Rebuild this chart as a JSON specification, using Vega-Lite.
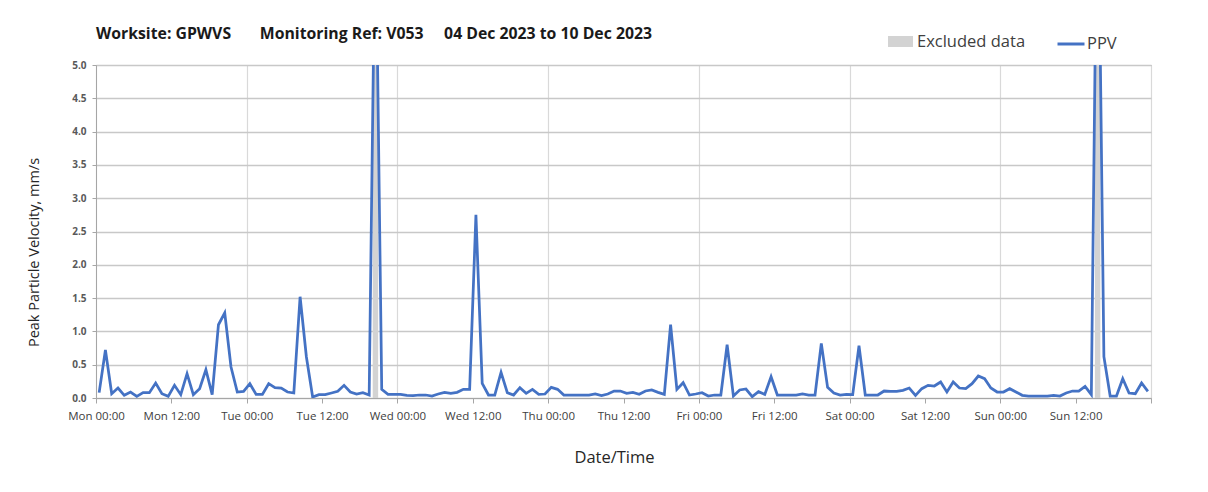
{
  "$schema": "https://vega.github.io/schema/vega-lite/v6.json",
  "width": 1055,
  "height": 333,
  "autosize": {"type": "none"},
  "padding": {"left": 96, "top": 65, "right": 57, "bottom": 94},
  "background": "white",
  "config": {
    "font": "Open Sans",
    "view": {"stroke": "#a6a6a6", "strokeWidth": 1}
  },
  "title": {
    "text": "Worksite: GPWVS\u00a0\u00a0\u00a0\u00a0\u00a0\u00a0\u00a0Monitoring Ref: V053\u00a0\u00a0\u00a0\u00a0\u00a004 Dec 2023 to 10 Dec 2023",
    "anchor": "start",
    "frame": "group",
    "font": "Open Sans",
    "fontSize": 15.8,
    "fontWeight": "bold",
    "color": "#1a1a1a",
    "offset": 18,
    "dy": 32
  },
  "datasets": {
    "excluded": [
      {"start": "2023-12-05T20:04", "end": "2023-12-05T20:56", "series": "Excluded data"},
      {"start": "2023-12-10T15:04", "end": "2023-12-10T15:56", "series": "Excluded data"}
    ],
    "ppv": [
      {"t": "2023-12-04T00:30", "v": 0.08},
      {"t": "2023-12-04T01:30", "v": 0.72},
      {"t": "2023-12-04T02:30", "v": 0.065},
      {"t": "2023-12-04T03:30", "v": 0.15},
      {"t": "2023-12-04T04:30", "v": 0.04},
      {"t": "2023-12-04T05:30", "v": 0.09},
      {"t": "2023-12-04T06:30", "v": 0.025},
      {"t": "2023-12-04T07:30", "v": 0.08},
      {"t": "2023-12-04T08:30", "v": 0.08},
      {"t": "2023-12-04T09:30", "v": 0.225},
      {"t": "2023-12-04T10:30", "v": 0.065},
      {"t": "2023-12-04T11:30", "v": 0.025},
      {"t": "2023-12-04T12:30", "v": 0.19},
      {"t": "2023-12-04T13:30", "v": 0.05},
      {"t": "2023-12-04T14:30", "v": 0.365},
      {"t": "2023-12-04T15:30", "v": 0.05},
      {"t": "2023-12-04T16:30", "v": 0.14},
      {"t": "2023-12-04T17:30", "v": 0.425},
      {"t": "2023-12-04T18:30", "v": 0.05},
      {"t": "2023-12-04T19:30", "v": 1.1},
      {"t": "2023-12-04T20:30", "v": 1.28},
      {"t": "2023-12-04T21:30", "v": 0.465},
      {"t": "2023-12-04T22:30", "v": 0.09},
      {"t": "2023-12-04T23:30", "v": 0.1},
      {"t": "2023-12-05T00:30", "v": 0.215},
      {"t": "2023-12-05T01:30", "v": 0.055},
      {"t": "2023-12-05T02:30", "v": 0.055},
      {"t": "2023-12-05T03:30", "v": 0.215},
      {"t": "2023-12-05T04:30", "v": 0.155},
      {"t": "2023-12-05T05:30", "v": 0.15},
      {"t": "2023-12-05T06:30", "v": 0.09},
      {"t": "2023-12-05T07:30", "v": 0.075},
      {"t": "2023-12-05T08:30", "v": 1.52},
      {"t": "2023-12-05T09:30", "v": 0.62},
      {"t": "2023-12-05T10:30", "v": 0.015},
      {"t": "2023-12-05T11:30", "v": 0.05},
      {"t": "2023-12-05T12:30", "v": 0.05},
      {"t": "2023-12-05T13:30", "v": 0.075},
      {"t": "2023-12-05T14:30", "v": 0.1},
      {"t": "2023-12-05T15:30", "v": 0.19},
      {"t": "2023-12-05T16:30", "v": 0.09},
      {"t": "2023-12-05T17:30", "v": 0.06},
      {"t": "2023-12-05T18:30", "v": 0.08},
      {"t": "2023-12-05T19:30", "v": 0.045},
      {"t": "2023-12-05T20:30", "v": 7.5},
      {"t": "2023-12-05T21:30", "v": 0.13},
      {"t": "2023-12-05T22:30", "v": 0.055},
      {"t": "2023-12-05T23:30", "v": 0.055},
      {"t": "2023-12-06T00:30", "v": 0.055},
      {"t": "2023-12-06T01:30", "v": 0.04},
      {"t": "2023-12-06T02:30", "v": 0.035},
      {"t": "2023-12-06T03:30", "v": 0.045},
      {"t": "2023-12-06T04:30", "v": 0.045},
      {"t": "2023-12-06T05:30", "v": 0.03},
      {"t": "2023-12-06T06:30", "v": 0.06},
      {"t": "2023-12-06T07:30", "v": 0.085},
      {"t": "2023-12-06T08:30", "v": 0.07},
      {"t": "2023-12-06T09:30", "v": 0.085},
      {"t": "2023-12-06T10:30", "v": 0.13},
      {"t": "2023-12-06T11:30", "v": 0.13},
      {"t": "2023-12-06T12:30", "v": 2.75},
      {"t": "2023-12-06T13:30", "v": 0.22},
      {"t": "2023-12-06T14:30", "v": 0.045},
      {"t": "2023-12-06T15:30", "v": 0.045},
      {"t": "2023-12-06T16:30", "v": 0.385},
      {"t": "2023-12-06T17:30", "v": 0.08},
      {"t": "2023-12-06T18:30", "v": 0.045},
      {"t": "2023-12-06T19:30", "v": 0.155},
      {"t": "2023-12-06T20:30", "v": 0.07},
      {"t": "2023-12-06T21:30", "v": 0.13},
      {"t": "2023-12-06T22:30", "v": 0.055},
      {"t": "2023-12-06T23:30", "v": 0.06},
      {"t": "2023-12-07T00:30", "v": 0.16},
      {"t": "2023-12-07T01:30", "v": 0.13},
      {"t": "2023-12-07T02:30", "v": 0.045},
      {"t": "2023-12-07T03:30", "v": 0.045},
      {"t": "2023-12-07T04:30", "v": 0.045},
      {"t": "2023-12-07T05:30", "v": 0.045},
      {"t": "2023-12-07T06:30", "v": 0.045},
      {"t": "2023-12-07T07:30", "v": 0.06},
      {"t": "2023-12-07T08:30", "v": 0.035},
      {"t": "2023-12-07T09:30", "v": 0.06},
      {"t": "2023-12-07T10:30", "v": 0.105},
      {"t": "2023-12-07T11:30", "v": 0.105},
      {"t": "2023-12-07T12:30", "v": 0.07},
      {"t": "2023-12-07T13:30", "v": 0.085},
      {"t": "2023-12-07T14:30", "v": 0.055},
      {"t": "2023-12-07T15:30", "v": 0.105},
      {"t": "2023-12-07T16:30", "v": 0.12},
      {"t": "2023-12-07T17:30", "v": 0.085},
      {"t": "2023-12-07T18:30", "v": 0.055},
      {"t": "2023-12-07T19:30", "v": 1.1},
      {"t": "2023-12-07T20:30", "v": 0.13},
      {"t": "2023-12-07T21:30", "v": 0.23},
      {"t": "2023-12-07T22:30", "v": 0.045},
      {"t": "2023-12-07T23:30", "v": 0.06},
      {"t": "2023-12-08T00:30", "v": 0.08},
      {"t": "2023-12-08T01:30", "v": 0.03},
      {"t": "2023-12-08T02:30", "v": 0.045},
      {"t": "2023-12-08T03:30", "v": 0.045},
      {"t": "2023-12-08T04:30", "v": 0.8},
      {"t": "2023-12-08T05:30", "v": 0.03},
      {"t": "2023-12-08T06:30", "v": 0.12},
      {"t": "2023-12-08T07:30", "v": 0.135},
      {"t": "2023-12-08T08:30", "v": 0.02},
      {"t": "2023-12-08T09:30", "v": 0.095},
      {"t": "2023-12-08T10:30", "v": 0.055},
      {"t": "2023-12-08T11:30", "v": 0.32},
      {"t": "2023-12-08T12:30", "v": 0.045},
      {"t": "2023-12-08T13:30", "v": 0.045},
      {"t": "2023-12-08T14:30", "v": 0.045},
      {"t": "2023-12-08T15:30", "v": 0.045},
      {"t": "2023-12-08T16:30", "v": 0.06},
      {"t": "2023-12-08T17:30", "v": 0.045},
      {"t": "2023-12-08T18:30", "v": 0.045},
      {"t": "2023-12-08T19:30", "v": 0.82},
      {"t": "2023-12-08T20:30", "v": 0.16},
      {"t": "2023-12-08T21:30", "v": 0.075},
      {"t": "2023-12-08T22:30", "v": 0.045},
      {"t": "2023-12-08T23:30", "v": 0.055},
      {"t": "2023-12-09T00:30", "v": 0.05},
      {"t": "2023-12-09T01:30", "v": 0.785},
      {"t": "2023-12-09T02:30", "v": 0.045},
      {"t": "2023-12-09T03:30", "v": 0.045},
      {"t": "2023-12-09T04:30", "v": 0.045},
      {"t": "2023-12-09T05:30", "v": 0.105},
      {"t": "2023-12-09T06:30", "v": 0.1},
      {"t": "2023-12-09T07:30", "v": 0.1},
      {"t": "2023-12-09T08:30", "v": 0.115},
      {"t": "2023-12-09T09:30", "v": 0.15},
      {"t": "2023-12-09T10:30", "v": 0.04},
      {"t": "2023-12-09T11:30", "v": 0.14},
      {"t": "2023-12-09T12:30", "v": 0.19},
      {"t": "2023-12-09T13:30", "v": 0.18},
      {"t": "2023-12-09T14:30", "v": 0.24},
      {"t": "2023-12-09T15:30", "v": 0.09},
      {"t": "2023-12-09T16:30", "v": 0.24},
      {"t": "2023-12-09T17:30", "v": 0.15},
      {"t": "2023-12-09T18:30", "v": 0.14},
      {"t": "2023-12-09T19:30", "v": 0.215},
      {"t": "2023-12-09T20:30", "v": 0.33},
      {"t": "2023-12-09T21:30", "v": 0.29},
      {"t": "2023-12-09T22:30", "v": 0.15},
      {"t": "2023-12-09T23:30", "v": 0.09},
      {"t": "2023-12-10T00:30", "v": 0.09},
      {"t": "2023-12-10T01:30", "v": 0.14},
      {"t": "2023-12-10T02:30", "v": 0.09},
      {"t": "2023-12-10T03:30", "v": 0.04},
      {"t": "2023-12-10T04:30", "v": 0.03},
      {"t": "2023-12-10T05:30", "v": 0.03},
      {"t": "2023-12-10T06:30", "v": 0.03},
      {"t": "2023-12-10T07:30", "v": 0.03},
      {"t": "2023-12-10T08:30", "v": 0.04},
      {"t": "2023-12-10T09:30", "v": 0.03},
      {"t": "2023-12-10T10:30", "v": 0.075},
      {"t": "2023-12-10T11:30", "v": 0.105},
      {"t": "2023-12-10T12:30", "v": 0.105},
      {"t": "2023-12-10T13:30", "v": 0.175},
      {"t": "2023-12-10T14:30", "v": 0.05},
      {"t": "2023-12-10T15:30", "v": 8.5},
      {"t": "2023-12-10T16:30", "v": 0.62},
      {"t": "2023-12-10T17:30", "v": 0.03},
      {"t": "2023-12-10T18:30", "v": 0.03},
      {"t": "2023-12-10T19:30", "v": 0.29},
      {"t": "2023-12-10T20:30", "v": 0.075},
      {"t": "2023-12-10T21:30", "v": 0.065},
      {"t": "2023-12-10T22:30", "v": 0.225},
      {"t": "2023-12-10T23:30", "v": 0.1}
    ]
  },
  "encoding": {
    "x": {
      "type": "temporal",
      "scale": {"domain": [{"year": 2023, "month": 12, "date": 4}, {"year": 2023, "month": 12, "date": 11}], "nice": false},
      "axis": {
        "title": "Date/Time", "grid": true,
        "gridColor": {"condition": {"test": "hours(datum.value) === 0", "value": "#d9d9d9"}, "value": "rgba(0,0,0,0)"},
        "gridWidth": 1.2,
        "values": [
          {"year": 2023, "month": 12, "date": 4, "hours": 0},
          {"year": 2023, "month": 12, "date": 4, "hours": 12},
          {"year": 2023, "month": 12, "date": 5, "hours": 0},
          {"year": 2023, "month": 12, "date": 5, "hours": 12},
          {"year": 2023, "month": 12, "date": 6, "hours": 0},
          {"year": 2023, "month": 12, "date": 6, "hours": 12},
          {"year": 2023, "month": 12, "date": 7, "hours": 0},
          {"year": 2023, "month": 12, "date": 7, "hours": 12},
          {"year": 2023, "month": 12, "date": 8, "hours": 0},
          {"year": 2023, "month": 12, "date": 8, "hours": 12},
          {"year": 2023, "month": 12, "date": 9, "hours": 0},
          {"year": 2023, "month": 12, "date": 9, "hours": 12},
          {"year": 2023, "month": 12, "date": 10, "hours": 0},
          {"year": 2023, "month": 12, "date": 10, "hours": 12},
          {"year": 2023, "month": 12, "date": 11, "hours": 0}
        ],
        "format": "%a %H:%M", "labelFont": "Open Sans", "labelFontSize": 11.5, "labelColor": "#404040",
        "labelExpr": "hours(datum.value) === 0 && date(datum.value) === 11 ? '' : datum.label",
        "labelPadding": 7, "tickSize": 5, "tickColor": "#a6a6a6", "domainColor": "#a6a6a6",
        "labelFlush": false, "labelOverlap": false,
        "titleFont": "Open Sans", "titleFontSize": 16.5, "titleFontWeight": "normal", "titleColor": "#262626",
        "titleX": 518, "titleY": 59, "titleBaseline": "middle"
      }
    },
    "y": {
      "type": "quantitative",
      "scale": {"domain": [0, 5], "nice": false},
      "axis": {
        "title": "Peak Particle Velocity, mm/s",
        "values": [0, 0.5, 1, 1.5, 2, 2.5, 3, 3.5, 4, 4.5, 5],
        "format": ".1f", "labelFont": "Open Sans", "labelFontSize": 10, "labelFontWeight": "bold",
        "labelColor": "#595959", "labelPadding": 6, "tickSize": 4, "tickColor": "#a6a6a6",
        "domainColor": "#a6a6a6", "gridColor": "#c8c8c8", "gridWidth": 1.3,
        "titleFont": "Open Sans", "titleFontSize": 14.5, "titleFontWeight": "normal", "titleColor": "#262626",
        "titleX": -55, "titleY": 187
      }
    }
  },
  "layer": [
    {
      "data": {"name": "excluded"},
      "mark": {"type": "rect", "clip": true},
      "encoding": {
        "x": {"field": "start", "type": "temporal"},
        "x2": {"field": "end"},
        "fill": {
          "field": "series", "type": "nominal",
          "scale": {"domain": ["Excluded data"], "range": ["#d3d3d3"]},
          "legend": {
            "orient": "none", "legendX": 792, "legendY": -36,
            "direction": "horizontal", "title": null,
            "symbolType": "M-1,-0.44H1V0.44H-1Z", "symbolSize": 625, "symbolStrokeWidth": 0,
            "labelFont": "Open Sans", "labelFontSize": 16.5, "labelColor": "#404040",
            "labelOffset": 4
          }
        }
      }
    },
    {
      "data": {"name": "ppv"},
      "transform": [{"calculate": "'PPV'", "as": "series"}],
      "mark": {"type": "line", "clip": true, "strokeWidth": 2.75},
      "encoding": {
        "x": {"field": "t", "type": "temporal"},
        "y": {"field": "v", "type": "quantitative"},
        "stroke": {
          "field": "series", "type": "nominal",
          "scale": {"domain": ["PPV"], "range": ["#4472c4"]},
          "legend": {
            "orient": "none", "legendX": 960, "legendY": -36,
            "direction": "horizontal", "title": null,
            "symbolType": "stroke", "symbolSize": 729, "symbolStrokeWidth": 3,
            "labelFont": "Open Sans", "labelFontSize": 16.5, "labelColor": "#404040",
            "labelOffset": 1
          }
        }
      }
    }
  ]
}
